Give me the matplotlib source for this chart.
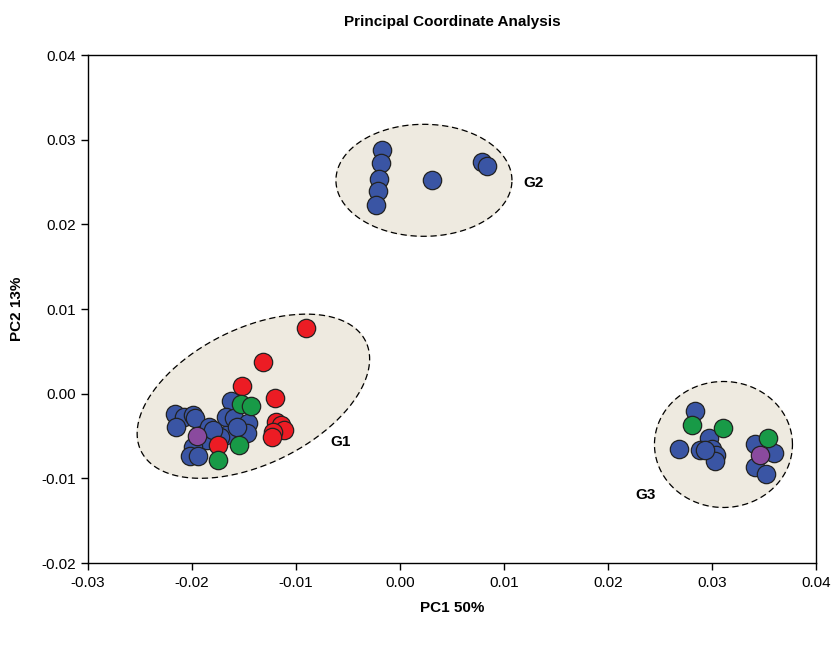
import numpy as np
import matplotlib
matplotlib.use('Agg')
import matplotlib.pyplot as plt

plt.rcParams['font.family'] = ['Liberation Sans', 'DejaVu Sans']

# sample coordinates (PC1, PC2)
blue_x = [-0.0017, -0.0018, -0.0020, -0.0021, -0.0023, 0.0031, 0.0079, 0.0084,
          -0.0216, -0.0208, -0.0199, -0.0197, -0.0215, -0.0184, -0.0163, -0.0167,
          -0.0160, -0.0146, -0.0147, -0.0167, -0.0173, -0.0186, -0.0199, -0.0202,
          -0.0194, -0.0180, -0.0157,
          0.0284, 0.0268, 0.0297, 0.0300, 0.0304, 0.0303, 0.0341, 0.0360, 0.0341, 0.0352]
blue_y = [0.0288, 0.0272, 0.0254, 0.0239, 0.0223, 0.0252, 0.0274, 0.0269,
          -0.0024, -0.0028, -0.0025, -0.0029, -0.0039, -0.0039, -0.0009, -0.0027,
          -0.0029, -0.0035, -0.0047, -0.0049, -0.0051, -0.0055, -0.0063, -0.0074,
          -0.0074, -0.0043, -0.0039,
          -0.0021, -0.0065, -0.0052, -0.0065, -0.0072, -0.0080, -0.0059, -0.0070, -0.0086, -0.0095]
blue_x += [0.0288, 0.0293]
blue_y += [-0.0066, -0.0066]

red_x = [-0.0090, -0.0132, -0.0152, -0.0120, -0.0119, -0.0114, -0.0112, -0.0122, -0.0123, -0.0175]
red_y = [0.0078, 0.0037, 0.0009, -0.0005, -0.0033, -0.0037, -0.0043, -0.0045, -0.0051, -0.0061]

green_x = [-0.0153, -0.0143, -0.0155, -0.0175, 0.0281, 0.0311, 0.0354]
green_y = [-0.0012, -0.0015, -0.0061, -0.0078, -0.0037, -0.0040, -0.0052]

purple_x = [-0.0195, 0.0346]
purple_y = [-0.0050, -0.0072]

# group outlines: centre x, centre y, half axes (px), angle (deg)
groups = ['G1', 'G2', 'G3']
ell_cx = [-0.0141, 0.0023, 0.0311]
ell_cy = [-0.0003, 0.0252, -0.0060]
ell_a = [125, 88, 69]
ell_b = [68, 56, 63]
ell_ang = [26, 0, 0]
lab_x = [-0.0057, 0.0128, 0.0236]
lab_y = [-0.0057, 0.0249, -0.0120]

fig = plt.figure(figsize=(8.36, 6.54), dpi=100)
ax = fig.add_axes([0.1053, 0.1391, 0.8708, 0.7768])
ax.set_xlim(-0.03, 0.04)
ax.set_ylim(-0.02, 0.04)

# pixels per data unit, so the tilted outline keeps its shape on screen
sx = 0.8708 * 836 / 0.07
sy = 0.7768 * 654 / 0.06
t = np.linspace(0, 2 * np.pi, 300)
for cx, cy, a, b, ang in zip(ell_cx, ell_cy, ell_a, ell_b, ell_ang):
    th = np.radians(ang)
    u = a * np.cos(t)
    v = b * np.sin(t)
    ex = cx + (u * np.cos(th) - v * np.sin(th)) / sx
    ey = cy + (u * np.sin(th) + v * np.cos(th)) / sy
    ax.fill(ex, ey, color='#EEEAE0', zorder=1)
    ax.plot(ex, ey, color='black', lw=0.9, ls=(0, (5, 3)), zorder=2)

kw = dict(s=175, edgecolors='#222222', linewidths=0.9)
ax.scatter(blue_x, blue_y, c='#3A55A4', zorder=3, **kw)
ax.scatter(red_x, red_y, c='#EC1C24', zorder=4, **kw)
ax.scatter(green_x, green_y, c='#189A47', zorder=5, **kw)
ax.scatter(purple_x, purple_y, c='#8A4A9E', zorder=6, **kw)

for g, x, y in zip(groups, lab_x, lab_y):
    ax.text(x, y, g, fontsize=11, fontweight='bold', ha='center', va='center', zorder=7)

ax.set_xticks(np.arange(-0.03, 0.041, 0.01))
ax.set_yticks(np.arange(-0.02, 0.041, 0.01))
ax.xaxis.set_major_formatter(plt.FuncFormatter(lambda v, p: f'{v:.2f}'))
ax.yaxis.set_major_formatter(plt.FuncFormatter(lambda v, p: f'{v:.2f}'))
ax.tick_params(direction='out', length=5, width=1, labelsize=11, pad=4)
for sp in ax.spines.values():
    sp.set_linewidth(1)

ax.set_title('Principal Coordinate Analysis', fontsize=11, fontweight='bold', pad=21)
ax.set_xlabel('PC1 50%', fontsize=11, fontweight='bold', labelpad=8)
ax.set_ylabel('PC2 13%', fontsize=11, fontweight='bold', labelpad=12)

fig.savefig('out.png', dpi=100)
